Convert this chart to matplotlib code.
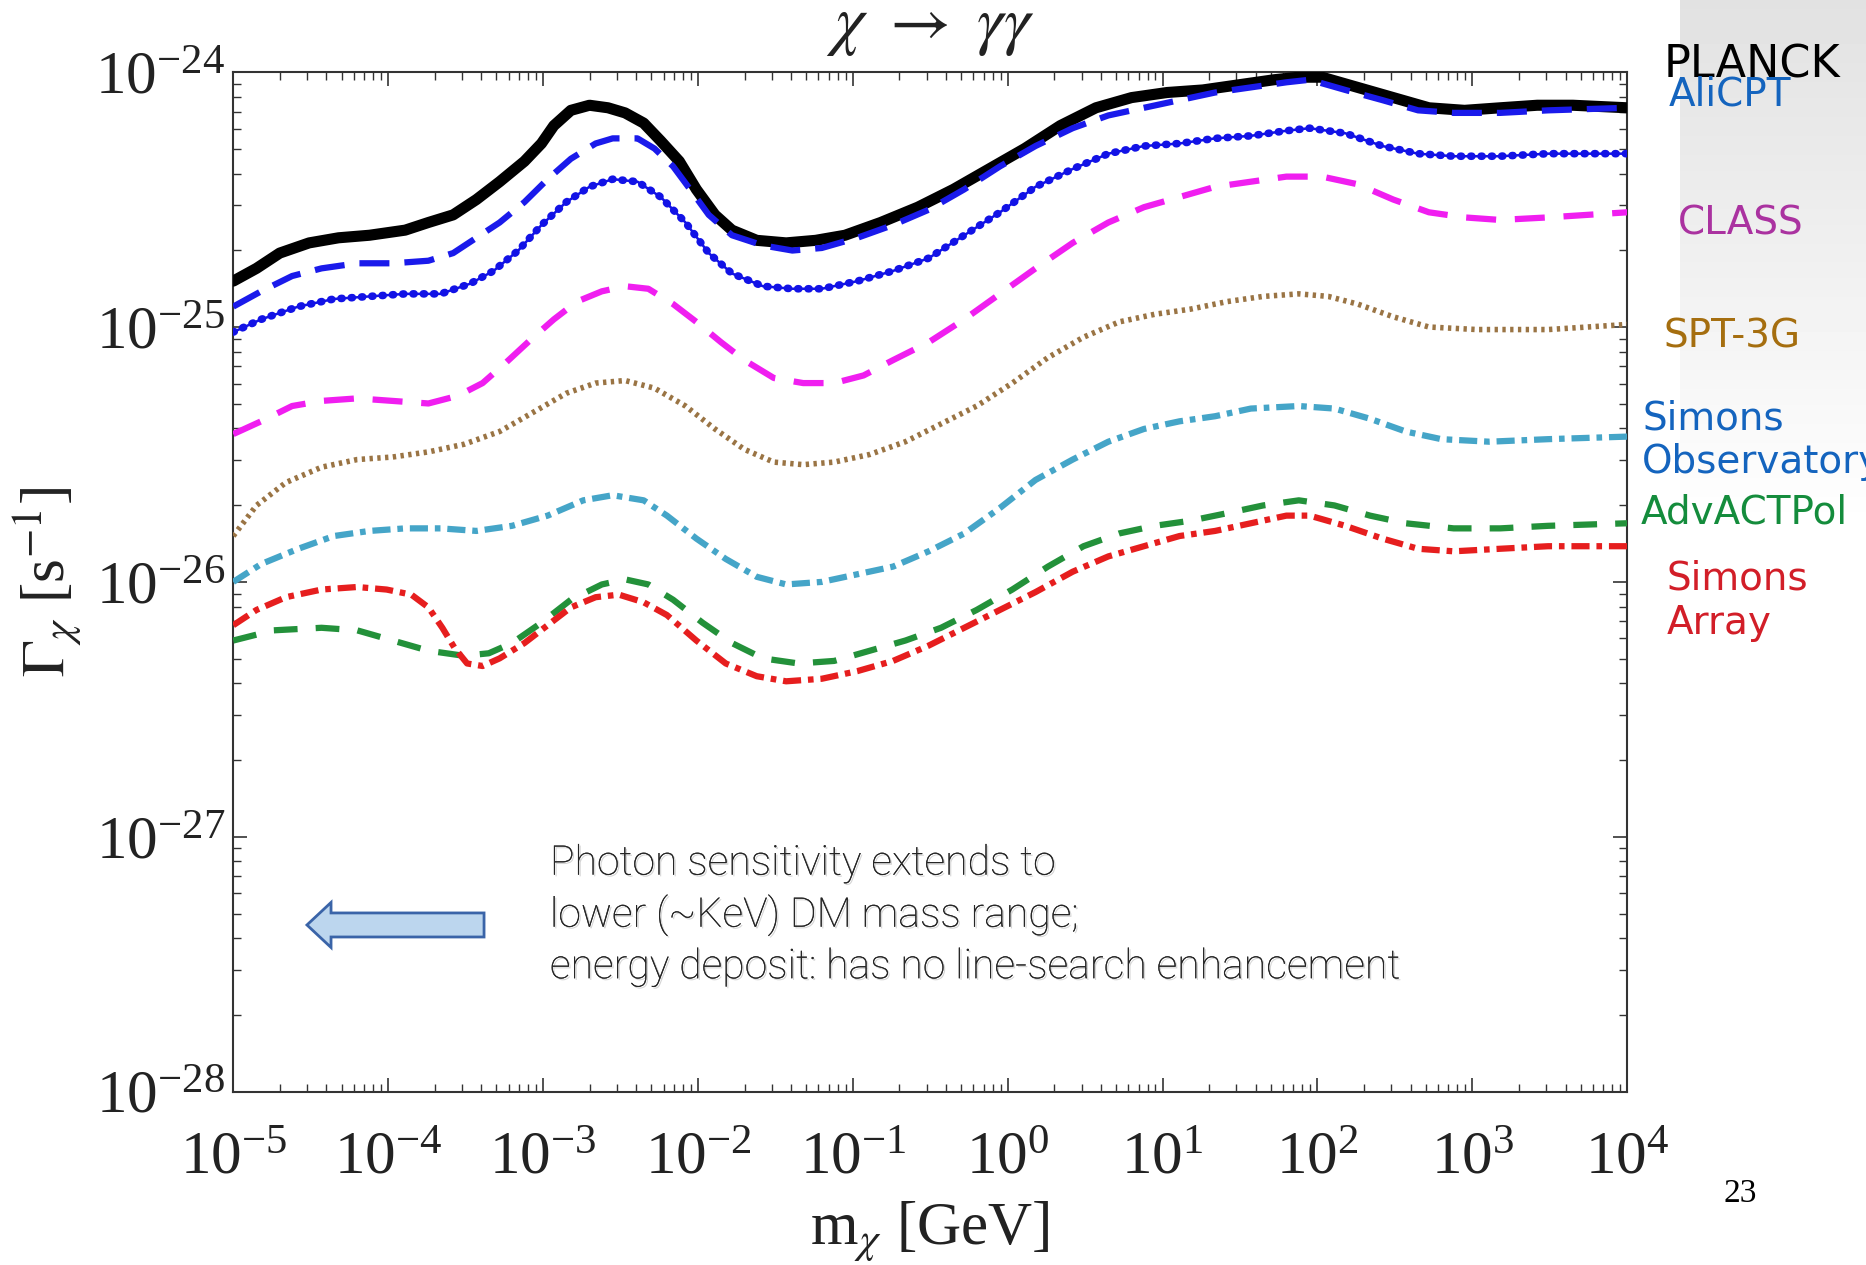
import numpy as np
import matplotlib
matplotlib.use("Agg")
import matplotlib.pyplot as plt
import matplotlib.patheffects as pe
from matplotlib.patches import FancyArrow
from matplotlib.ticker import LogLocator, NullFormatter

plt.rcParams['font.family'] = 'serif'
plt.rcParams['font.serif'] = ['Liberation Serif', 'DejaVu Serif']
plt.rcParams['mathtext.fontset'] = 'stix'

# log10(m / GeV) and log10(Gamma / s^-1) for each projected limit
planck_lm = [-5.00, -4.85, -4.70, -4.51, -4.32, -4.12, -3.89, -3.74, -3.58, -3.43, -3.28, -3.12, -3.01, -2.93,
             -2.82, -2.70, -2.58, -2.47, -2.35, -2.24, -2.12, -2.01, -1.89, -1.78, -1.62, -1.43, -1.24, -1.05,
             -0.82, -0.58, -0.35, -0.12, 0.11, 0.34, 0.57, 0.80, 1.03, 1.26, 1.49, 1.72, 1.88, 2.03, 2.26,
             2.49, 2.72, 2.95, 3.18, 3.42, 3.65, 4.00]
planck_lg = [-24.82, -24.77, -24.71, -24.67, -24.65, -24.64, -24.62, -24.59, -24.56, -24.50, -24.43, -24.35,
             -24.28, -24.21, -24.15, -24.13, -24.14, -24.16, -24.20, -24.27, -24.35, -24.46, -24.56, -24.62,
             -24.66, -24.67, -24.66, -24.64, -24.59, -24.53, -24.46, -24.38, -24.30, -24.21, -24.14, -24.10,
             -24.08, -24.07, -24.05, -24.03, -24.02, -24.02, -24.06, -24.10, -24.14, -24.15, -24.14, -24.13,
             -24.13, -24.14]

alicpt_lm = [-5.00, -4.82, -4.62, -4.43, -4.20, -3.97, -3.74, -3.58, -3.43, -3.28, -3.12, -2.97, -2.82, -2.66,
             -2.55, -2.39, -2.28, -2.16, -2.05, -1.93, -1.78, -1.58, -1.39, -1.20, -0.97, -0.74, -0.51, -0.28,
             -0.05, 0.18, 0.42, 0.65, 0.88, 1.11, 1.34, 1.57, 1.80, 1.95, 2.18, 2.42, 2.65, 2.88, 3.18, 3.49,
             4.00]
alicpt_lg = [-24.92, -24.86, -24.80, -24.77, -24.75, -24.75, -24.74, -24.71, -24.65, -24.59, -24.51, -24.42,
             -24.34, -24.28, -24.26, -24.26, -24.30, -24.37, -24.46, -24.56, -24.64, -24.68, -24.70, -24.69,
             -24.65, -24.60, -24.54, -24.46, -24.37, -24.29, -24.22, -24.17, -24.14, -24.11, -24.08, -24.06,
             -24.04, -24.03, -24.07, -24.11, -24.15, -24.16, -24.16, -24.15, -24.14]

star_lm = [-5.00, -4.82, -4.58, -4.35, -4.12, -3.89, -3.66, -3.47, -3.32, -3.16, -3.01, -2.85, -2.70, -2.55,
           -2.39, -2.24, -2.08, -1.93, -1.78, -1.58, -1.39, -1.20, -0.97, -0.74, -0.51, -0.28, -0.05, 0.18,
           0.42, 0.65, 0.88, 1.11, 1.34, 1.57, 1.80, 1.95, 2.18, 2.42, 2.65, 2.88, 3.18, 3.49, 4.00]
star_lg = [-25.02, -24.97, -24.92, -24.89, -24.88, -24.87, -24.87, -24.83, -24.78, -24.70, -24.60, -24.51,
           -24.45, -24.42, -24.43, -24.49, -24.59, -24.71, -24.79, -24.84, -24.85, -24.85, -24.82, -24.78,
           -24.73, -24.64, -24.55, -24.45, -24.38, -24.32, -24.29, -24.28, -24.26, -24.25, -24.23, -24.22,
           -24.24, -24.29, -24.32, -24.33, -24.33, -24.32, -24.32]

class_lm = [-5.00, -4.82, -4.62, -4.43, -4.20, -3.97, -3.74, -3.55, -3.39, -3.24, -3.08, -2.93, -2.78, -2.62,
            -2.47, -2.32, -2.16, -2.01, -1.85, -1.70, -1.51, -1.32, -1.12, -0.93, -0.74, -0.51, -0.28, -0.05,
            0.18, 0.42, 0.65, 0.88, 1.11, 1.34, 1.57, 1.80, 2.03, 2.26, 2.49, 2.72, 2.95, 3.18, 3.49, 4.00]
class_lg = [-25.42, -25.37, -25.31, -25.29, -25.28, -25.29, -25.30, -25.27, -25.22, -25.14, -25.05, -24.97,
            -24.90, -24.86, -24.84, -24.85, -24.91, -24.98, -25.06, -25.13, -25.20, -25.22, -25.22, -25.19,
            -25.13, -25.06, -24.97, -24.87, -24.77, -24.67, -24.59, -24.53, -24.49, -24.45, -24.43, -24.41,
            -24.41, -24.44, -24.50, -24.55, -24.57, -24.58, -24.57, -24.55]

spt_lm = [-5.00, -4.85, -4.66, -4.43, -4.20, -3.97, -3.74, -3.51, -3.28, -3.05, -2.85, -2.66, -2.47, -2.28,
          -2.08, -1.89, -1.70, -1.51, -1.32, -1.12, -0.89, -0.66, -0.43, -0.20, 0.03, 0.26, 0.49, 0.72, 0.95,
          1.18, 1.42, 1.65, 1.88, 2.07, 2.26, 2.49, 2.72, 3.03, 3.49, 4.00]
spt_lg = [-25.82, -25.70, -25.61, -25.55, -25.52, -25.51, -25.49, -25.46, -25.41, -25.33, -25.26, -25.22,
          -25.21, -25.24, -25.31, -25.40, -25.48, -25.53, -25.54, -25.53, -25.50, -25.45, -25.38, -25.31,
          -25.22, -25.12, -25.04, -24.98, -24.95, -24.93, -24.90, -24.88, -24.87, -24.88, -24.91, -24.96,
          -25.00, -25.01, -25.01, -24.99]

so_lm = [-5.00, -4.82, -4.58, -4.35, -4.12, -3.89, -3.66, -3.43, -3.20, -2.97, -2.74, -2.55, -2.35, -2.20,
         -2.01, -1.82, -1.62, -1.43, -1.20, -0.97, -0.74, -0.51, -0.28, -0.05, 0.18, 0.42, 0.65, 0.88, 1.11,
         1.34, 1.57, 1.88, 2.11, 2.34, 2.57, 2.80, 3.11, 3.49, 4.00]
so_lg = [-26.00, -25.93, -25.87, -25.82, -25.80, -25.79, -25.79, -25.80, -25.78, -25.74, -25.68, -25.66,
         -25.68, -25.74, -25.83, -25.91, -25.98, -26.01, -26.00, -25.97, -25.94, -25.88, -25.81, -25.71,
         -25.60, -25.52, -25.45, -25.40, -25.37, -25.35, -25.32, -25.31, -25.32, -25.36, -25.41, -25.44,
         -25.45, -25.44, -25.43]

act_lm = [-5.00, -4.74, -4.43, -4.20, -3.97, -3.74, -3.51, -3.35, -3.20, -3.01, -2.82, -2.62, -2.47, -2.32,
          -2.16, -1.97, -1.78, -1.58, -1.35, -1.12, -0.89, -0.66, -0.43, -0.20, 0.03, 0.26, 0.49, 0.72, 0.95,
          1.18, 1.42, 1.65, 1.88, 2.11, 2.34, 2.57, 2.88, 3.18, 3.49, 4.00]
act_lg = [-26.23, -26.19, -26.18, -26.19, -26.23, -26.27, -26.29, -26.28, -26.24, -26.16, -26.07, -26.01,
          -25.99, -26.01, -26.07, -26.16, -26.24, -26.30, -26.32, -26.31, -26.27, -26.23, -26.18, -26.11,
          -26.03, -25.94, -25.86, -25.81, -25.78, -25.76, -25.73, -25.70, -25.68, -25.70, -25.74, -25.77,
          -25.79, -25.79, -25.78, -25.77]

sa_lm = [-5.00, -4.85, -4.66, -4.43, -4.20, -4.01, -3.85, -3.74, -3.65, -3.57, -3.49, -3.39, -3.28, -3.12,
         -2.97, -2.82, -2.66, -2.51, -2.35, -2.20, -2.01, -1.82, -1.62, -1.43, -1.20, -0.97, -0.74, -0.51,
         -0.28, -0.05, 0.18, 0.42, 0.65, 0.88, 1.11, 1.34, 1.57, 1.80, 1.95, 2.18, 2.42, 2.65, 2.88, 3.18,
         3.49, 4.00]
sa_lg = [-26.17, -26.11, -26.06, -26.03, -26.02, -26.03, -26.05, -26.10, -26.18, -26.26, -26.32, -26.33,
         -26.30, -26.24, -26.17, -26.10, -26.06, -26.05, -26.08, -26.13, -26.23, -26.32, -26.37, -26.39,
         -26.38, -26.35, -26.31, -26.25, -26.18, -26.11, -26.04, -25.96, -25.90, -25.86, -25.82, -25.80,
         -25.77, -25.74, -25.74, -25.78, -25.83, -25.87, -25.88, -25.87, -25.86, -25.86]

fig = plt.figure(figsize=(18.66, 12.65), dpi=100)

# grey slide panel on the right, fading to white further down
bg = fig.add_axes([1680 / 1866, 0, 1 - 1680 / 1866, 1], zorder=-5)
shade = np.clip(0.885 + 0.115 * np.linspace(0, 1, 400) / 0.42, 0, 1)
bg.imshow(np.tile(shade[:, None], (1, 4)), cmap='gray', vmin=0, vmax=1, aspect='auto',
          extent=[0, 1, 0, 1], origin='upper')
bg.set_xlim(0, 1)
bg.set_ylim(0, 1)
bg.axis('off')

ax = fig.add_axes([0.125, 0.137, 0.747, 0.806])


def p(lm, lg):
    return 10.0 ** np.array(lm), 10.0 ** np.array(lg)


ax.plot(*p(planck_lm, planck_lg), color='black', lw=8, solid_capstyle='round', solid_joinstyle='round',
        zorder=3)
ax.plot(*p(alicpt_lm, alicpt_lg), color='#1a1aeb', lw=4.5, dashes=(4.8, 2.4), zorder=4)
ax.plot(*p(star_lm, star_lg), color='#1212e6', lw=1.8, zorder=4)
ax.plot(*p(star_lm, star_lg), color='#1212e6', lw=5.5, dashes=(0.15, 1.2), dash_capstyle='round', zorder=4)
ax.plot(*p(class_lm, class_lg), color='#f01ef0', lw=4.5, dashes=(4.8, 3.0), zorder=4)
ax.plot(*p(spt_lm, spt_lg), color='#9a7444', lw=4, dashes=(0.6, 0.8), zorder=4)
ax.plot(*p(so_lm, so_lg), color='#45a5c8', lw=4.5, dashes=(2.9, 1.1, 0.9, 1.1), zorder=4)
ax.plot(*p(act_lm, act_lg), color='#23913a', lw=4.5, dashes=(3.8, 2.9), zorder=4)
ax.plot(*p(sa_lm, sa_lg), color='#e61e1e', lw=4.5, dashes=(2.9, 1.1, 0.9, 1.1), zorder=4)

ax.set_xscale('log')
ax.set_yscale('log')
ax.set_xlim(1e-5, 1e4)
ax.set_ylim(1e-28, 1e-24)
for a in (ax.xaxis, ax.yaxis):
    a.set_major_locator(LogLocator(base=10, numticks=20))
    a.set_minor_locator(LogLocator(base=10, subs=np.arange(2, 10), numticks=20))
    a.set_minor_formatter(NullFormatter())

ax.tick_params(which='both', direction='in', top=True, right=True, colors='#333333', labelcolor='#222222')
ax.tick_params(which='major', length=10, width=1.2, labelsize=44)
ax.tick_params(which='minor', length=6, width=1.0)
ax.tick_params(axis='x', pad=28)
ax.tick_params(axis='y', pad=6)
for s in ax.spines.values():
    s.set_color('#333333')
    s.set_linewidth(1.5)

ax.set_title(r'$\chi\ \rightarrow\ \gamma\gamma$', fontsize=48, pad=22, color='#222222')
ax.set_xlabel(r'm$_\chi$ [GeV]', fontsize=44, color='#222222')
ax.xaxis.set_label_coords(0.5, -0.137)
ax.xaxis.label.set_va('center')
ax.set_ylabel(r'$\Gamma_\chi$ [s$^{-1}$]', fontsize=44, color='#222222')
ax.yaxis.set_label_coords(-0.133, 0.5)
ax.yaxis.label.set_va('center')

# experiment names beside the curves
hand = ['DejaVu Sans']
fig.text(0.8917, 0.9486, 'PLANCK', fontsize=32, color='black', family=hand, va='center')
fig.text(0.894, 0.925, 'AliCPT', fontsize=28, color='#1464be', family=hand, va='center')
fig.text(0.899, 0.823, 'CLASS', fontsize=28, color='#aa32a0', family=hand, va='center')
fig.text(0.8917, 0.734, 'SPT-3G', fontsize=28, color='#a56e0f', family=hand, va='center')
fig.text(0.880, 0.652, 'Simons\nObservatory', fontsize=28, color='#1464be', family=hand, va='center',
         linespacing=1.2)
fig.text(0.879, 0.595, 'AdvACTPol', fontsize=28, color='#148c3c', family=hand, va='center')
fig.text(0.893, 0.525, 'Simons\nArray', fontsize=28, color='#d21e28', family=hand, va='center',
         linespacing=1.2)

fig.text(0.9325, 0.056, '23', fontsize=24, color='black', ha='center', va='center')

# note about the low-mass reach
fig.text(0.2947, 0.2767,
         'Photon sensitivity extends to\nlower (~KeV) DM mass range;\nenergy deposit: has no line-search enhancement',
         fontsize=29.5, family=['Roboto', 'DejaVu Sans'], weight='light', color='#262626', va='center',
         linespacing=1.36,
         path_effects=[pe.withSimplePatchShadow(offset=(1.2, -1.2), shadow_rgbFace='#888888', alpha=0.35),
                       pe.Normal()])

arrow = FancyArrow(0.2594, 0.2688, -(0.2594 - 0.1645), 0, width=0.019, head_width=0.0356,
                   head_length=0.0129, length_includes_head=True, transform=fig.transFigure,
                   facecolor='#bcd6ee', edgecolor='#3a64a8', linewidth=2)
fig.patches.append(arrow)

fig.savefig('out.png', dpi=100)
